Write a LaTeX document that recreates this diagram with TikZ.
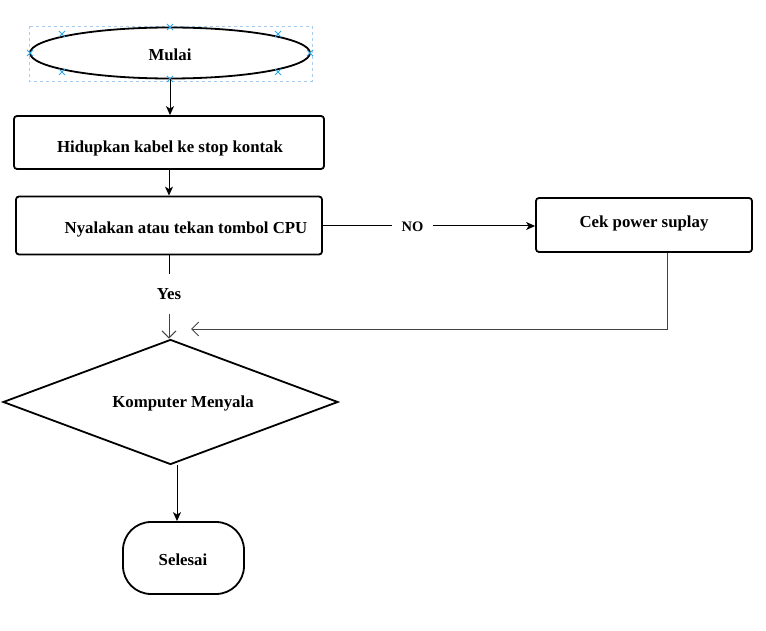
\documentclass[tikz,border=0pt]{standalone}
\usepackage{fontspec}
\setmainfont{Liberation Serif}
\usetikzlibrary{shapes.geometric,arrows.meta}
\definecolor{selblue}{HTML}{A8CCF0}
\definecolor{handleblue}{HTML}{2FA8E8}
\definecolor{greyline}{HTML}{444444}
\begin{document}
\begin{tikzpicture}[x=1pt,y=-1pt,
  shp/.style={draw=black, line width=1.8pt},
  box/.style={shp, rectangle, rounded corners=3pt, inner sep=0pt},
  lbl/.style={font=\bfseries\fontsize{16.8}{20}\selectfont, inner sep=0pt, yshift=-1.5pt},
  conn/.style={draw=black, line width=1pt, -{Stealth[length=9pt,width=8pt,inset=2.5pt]}},
  openconn/.style={draw=greyline, line width=1pt, -{Straight Barb[length=7pt,width=14pt]}},
  plain/.style={draw=black, line width=1pt},
  handle/.style={draw=handleblue, line width=0.9pt}
]
\useasboundingbox (0,0) rectangle (766,631);

% selection frame of the start shape
\draw[selblue, dashed, line width=0.8pt] (29,26) rectangle (312,81);

% shapes
\node[shp, ellipse, inner sep=0pt, minimum width=280pt, minimum height=51pt] (start) at (170,53) {};
\node[box, minimum width=310pt, minimum height=53pt] (b1) at (169,142.5) {};
\node[box, minimum width=306pt, minimum height=58pt] (b2) at (169,225.5) {};
\node[box, minimum width=216pt, minimum height=54pt] (b3) at (644,225) {};
\node[shp, diamond, inner sep=0pt, minimum width=335pt, minimum height=125pt] (dec) at (170.5,402) {};
\node[box, rounded corners=28pt, minimum width=121pt, minimum height=72pt] (end) at (183.5,558) {};

% texts
\node[lbl] (tstart) at (170,53) {Mulai};
\node[lbl] (tb1) at (170,147) {Hidupkan kabel ke stop kontak};
\node[lbl] (tb2) at (186,228) {Nyalakan atau tekan tombol CPU};
\node[lbl] (tb3) at (644,222) {Cek power suplay};
\node[lbl] (tdec) at (183,402) {Komputer Menyala};
\node[lbl] (tend) at (183,558) {Selesai};

% selection handles
\foreach \hx/\hy in {62/34,170/27,278/34,30/53,310/53,62/72,170/79,278/72}{
  \draw[handle] (\hx-3,\hy-3) -- (\hx+3,\hy+3) (\hx-3,\hy+3) -- (\hx+3,\hy-3);
}

% connectors
\draw[conn] (start.south) -- (b1.north -| start.south);
\draw[conn] (b1.south) -- (b2.north);

\node[lbl, font=\bfseries\fontsize{14.5}{17}\selectfont, minimum width=41pt, minimum height=14pt] (no) at (412.5,225) {NO};
\draw[plain] (b2.east |- 0,226) -- (no.west |- 0,226);
\draw[conn] (no.east |- 0,226) -- (b3.west |- 0,226);

\node[lbl, minimum height=39pt] (yes) at (169,292.5) {Yes};
\draw[plain] (b2.south) -- (yes.north);
\draw[openconn] (yes.south) -- (dec.north -| yes.south);

\coordinate (fbend) at (191,329);
\draw[openconn] ([xshift=23pt]b3.south) |- (fbend);

\draw[conn] ([xshift=6.5pt]dec.south) -- ([xshift=-6.5pt]end.north);
\end{tikzpicture}
\end{document}
